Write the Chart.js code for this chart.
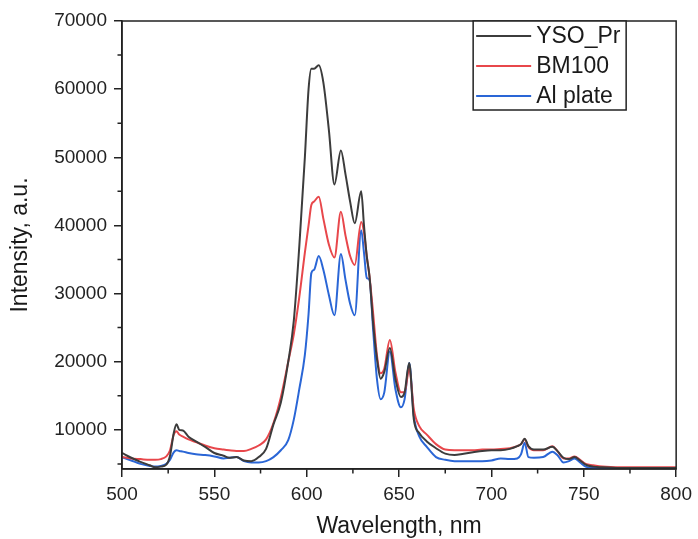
<!DOCTYPE html>
<html>
<head>
<meta charset="utf-8">
<script src="https://cdn.jsdelivr.net/npm/chart.js@4.4.1/dist/chart.umd.min.js"></script>
<style>html,body{margin:0;padding:0;background:#fff;}canvas{display:block;}</style>
</head>
<body>
<canvas id="c" width="698" height="539"></canvas>
<script>
const wavelengths = [500,505,510,515,518,521,524,526,528,529.5,531,533,536,540,545,550,555,558,562,566,570,574,578,582,586,590,593,596,599,601,602.5,604,606.5,609,612,615,618.5,621,623.5,626,629.5,631,632.5,634,636,638,640,642,645,648,651,653,655.5,658,661,665,670,675,680,685,690,695,700,705,710,714,716,718,720,723,728,733,736,739,742,745,748,751,755,760,770,780,790,800];
const ysoPr = [6600,5900,5300,4800,4500,4600,4900,6200,9500,10800,
  10000,9900,9000,8300,7500,6600,6200,5900,6000,5500,
  5400,6000,7200,10800,14000,20000,26000,37000,50000,60000,
  63000,63000,63500,61000,54000,46000,51000,47500,43500,40300,
  45000,40000,35500,32500,25500,20500,17500,18500,22000,17500,
  14800,15500,19800,11500,9500,8300,7300,6500,6300,6500,
  6700,6900,7000,7000,7200,7600,7900,8700,7600,7100,
  7100,7500,6800,5900,5700,6000,5500,4900,4600,4500,
  4400,4400,4400,4400];
const bm100 = [6000,5800,5700,5600,5600,5700,6100,7000,9300,9800,
  9300,9000,8600,8200,7700,7300,7100,7000,6900,6900,
  7200,7700,8600,11000,14800,20000,24000,29500,36000,40000,
  43000,43500,44200,41000,37200,35300,42000,38500,35500,34200,
  40500,39000,35500,32500,27000,21000,18300,19000,23200,18500,
  15500,15500,19000,13000,10500,9300,7900,7100,7000,7000,
  7000,7100,7100,7200,7300,7600,7900,8600,7500,7000,
  7000,7600,6800,5800,5800,6100,5600,5000,4800,4600,
  4500,4500,4500,4500];
const alPlate = [6000,5500,5000,4700,4600,4700,5000,5600,6700,7000,
  6900,6800,6600,6400,6300,6100,5800,5900,6000,5400,
  5200,5200,5400,6000,7000,8500,11500,16000,21000,27000,
  33000,33500,35500,33500,29800,26800,35800,32000,28500,26800,
  39300,36000,32300,32000,24500,17500,14500,15500,21500,16000,
  13300,14500,19800,12000,9000,7500,6000,5600,5400,5400,
  5400,5400,5500,5800,5700,5800,6400,8100,6000,5900,
  6000,6800,6200,5200,5400,5800,5200,4600,4400,4400,
  4400,4400,4400,4400];
const seriesLabels = ['YSO_Pr','BM100','Al plate'];
const seriesColors = ['#3c3c3c','#e8474b','#2a66d6'];
const xMajorTicks = [500,550,600,650,700,750,800];
const xMinorTicks = [525,575,625,675,725,775];
const yMajorTicks = [10000,20000,30000,40000,50000,60000,70000];
const yMinorTicks = [5000,15000,25000,35000,45000,55000,65000];

const FONT = '"Liberation Sans", Arial, sans-serif';
const AXIS = '#222';

function pts(arr){ return wavelengths.map((w,i)=>({x:w,y:arr[i]})); }

const framePlugin = {
  id: 'frame',
  afterDraw(chart){
    const ctx = chart.ctx, a = chart.chartArea;
    const xs = chart.scales.x, ys = chart.scales.y;
    ctx.save();
    ctx.strokeStyle = AXIS; ctx.lineWidth = 1.5;
    ctx.strokeRect(a.left, a.top, a.right-a.left, a.bottom-a.top);
    ctx.beginPath();
    yMinorTicks.forEach(v=>{ const p = ys.getPixelForValue(v); if(p<=a.bottom && p>=a.top){ ctx.moveTo(a.left-4.5,p); ctx.lineTo(a.left,p);} });
    xMinorTicks.forEach(v=>{ const p = xs.getPixelForValue(v); ctx.moveTo(p,a.bottom); ctx.lineTo(p,a.bottom+4.5); });
    ctx.stroke();
    // legend
    const bl = a.right-203, br = a.right-50, bt = a.top, bb = a.top+89;
    ctx.fillStyle = '#fff';
    ctx.fillRect(bl,bt,br-bl,bb-bt);
    ctx.strokeRect(bl,bt,br-bl,bb-bt);
    ctx.font = '23px ' + FONT;
    ctx.textBaseline = 'middle'; ctx.textAlign = 'left';
    chart.data.datasets.forEach((ds,i)=>{
      const y = bt + 15 + i*30;
      ctx.strokeStyle = ds.borderColor; ctx.lineWidth = 2;
      ctx.beginPath(); ctx.moveTo(bl+3,y); ctx.lineTo(bl+58,y); ctx.stroke();
      ctx.fillStyle = '#1a1a1a';
      ctx.fillText(ds.label, bl+63, y+1);
    });
    ctx.restore();
  }
};

new Chart(document.getElementById('c'), {
  type: 'line',
  data: {
    datasets: [
      {label: seriesLabels[0], data: pts(ysoPr), borderColor: seriesColors[0]},
      {label: seriesLabels[1], data: pts(bm100), borderColor: seriesColors[1]},
      {label: seriesLabels[2], data: pts(alPlate), borderColor: seriesColors[2]}
    ]
  },
  options: {
    responsive: false,
    animation: false,
    devicePixelRatio: 1,
    layout: {padding: {left: 0, right: 18, top: 21, bottom: 0}},
    elements: {
      point: {radius: 0},
      line: {borderWidth: 2, tension: 0.35, cubicInterpolationMode: 'monotone', fill: false}
    },
    plugins: {legend: {display: false}, tooltip: {enabled: false}, title: {display: false}},
    scales: {
      x: {
        type: 'linear', position: 'bottom', min: 500, max: 800,
        afterBuildTicks: s => { s.ticks = xMajorTicks.map(v=>({value:v})); },
        afterFit: s => { s.height = 70; },
        ticks: {autoSkip: false, maxRotation: 0, padding: 6, color: AXIS, font: {family: FONT, size: 19}, callback: v => String(v)},
        grid: {drawOnChartArea: false, drawTicks: true, tickLength: 8, color: AXIS, lineWidth: 1.5},
        border: {display: true, color: AXIS, width: 1.5},
        title: {display: true, text: 'Wavelength, nm', color: '#1a1a1a', font: {family: FONT, size: 23}, padding: {top: 0, bottom: -1}}
      },
      y: {
        type: 'linear', position: 'left', min: 4250, max: 70000,
        afterBuildTicks: s => { s.ticks = yMajorTicks.map(v=>({value:v})); },
        afterFit: s => { s.width = 122; },
        ticks: {autoSkip: false, padding: 7, color: AXIS, font: {family: FONT, size: 19}, callback: v => String(v)},
        grid: {drawOnChartArea: false, drawTicks: true, tickLength: 8, color: AXIS, lineWidth: 1.5},
        border: {display: true, color: AXIS, width: 1.5},
        title: {display: true, text: 'Intensity, a.u.', color: '#1a1a1a', font: {family: FONT, size: 23}, padding: {top: 7, bottom: 0}}
      }
    }
  },
  plugins: [framePlugin]
});
</script>
</body>
</html>
